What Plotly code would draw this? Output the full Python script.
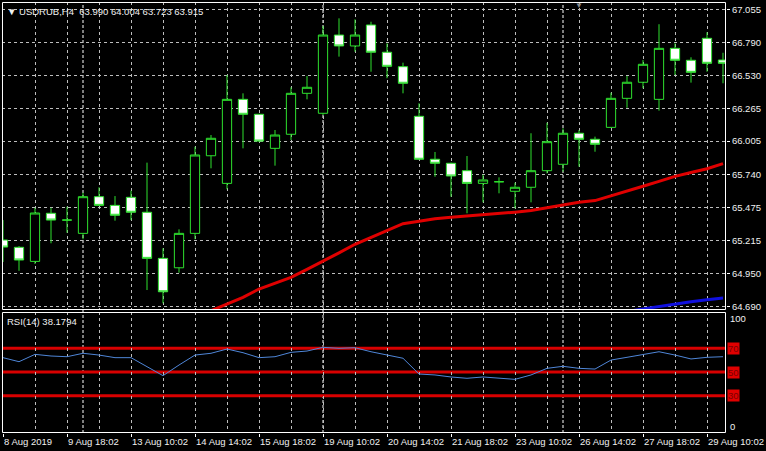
import plotly.graph_objects as go

# ---------------- data ----------------
candle_idx = list(range(46))
open_ = [65.218, 65.160, 65.048, 65.431, 65.377, 65.271, 65.563, 65.494, 65.558, 65.439,
         65.072, 64.997, 65.271, 65.889, 65.669, 66.338, 66.219, 65.948, 66.060, 66.386,
         66.227, 66.850, 66.763, 66.930, 66.713, 66.598, 66.203, 65.861, 65.829, 65.770,
         65.669, 65.682, 65.606, 65.638, 65.770, 65.821, 66.068, 66.020, 66.115, 66.346,
         66.474, 66.338, 66.744, 66.649, 66.824, 66.651]
high = [65.377, 65.170, 65.475, 65.475, 65.483, 65.595, 65.638, 65.568, 65.611, 65.834,
        65.152, 65.303, 65.961, 66.054, 66.532, 66.386, 66.221, 66.094, 66.434, 66.524,
        66.922, 66.983, 66.975, 66.956, 66.784, 66.630, 66.307, 65.919, 65.834, 65.887,
        65.738, 65.717, 65.674, 66.068, 66.152, 66.107, 66.094, 66.041, 66.391, 66.524,
        66.651, 66.936, 66.784, 66.673, 66.872, 66.709]
low = [65.043, 64.973, 65.027, 65.192, 65.276, 65.224, 65.489, 65.372, 65.377, 64.820,
       64.714, 64.958, 65.224, 65.789, 65.622, 65.948, 66.002, 65.810, 66.014, 66.338,
       66.213, 66.678, 66.717, 66.558, 66.506, 66.386, 65.855, 65.722, 65.563, 65.431,
       65.518, 65.590, 65.470, 65.518, 65.749, 65.762, 65.802, 65.921, 66.110, 66.271,
       66.426, 66.248, 66.532, 66.471, 66.558, 66.466]
close = [65.162, 65.059, 65.433, 65.377, 65.377, 65.563, 65.494, 65.415, 65.439, 65.072,
         64.806, 65.271, 65.895, 66.028, 66.338, 66.219, 66.006, 66.054, 66.386, 66.434,
         66.850, 66.763, 66.850, 66.713, 66.601, 66.466, 65.861, 65.829, 65.728, 65.669,
         65.696, 65.682, 65.638, 65.770, 66.001, 66.068, 66.020, 65.980, 66.346, 66.474,
         66.617, 66.744, 66.649, 66.553, 66.625, 66.625]

ma_red_idx = list(range(12, 46))
ma_red = [64.602, 64.655, 64.708, 64.762, 64.828, 64.875, 64.921, 64.985, 65.048, 65.116,
          65.184, 65.239, 65.295, 65.348, 65.368, 65.387, 65.399, 65.409, 65.419, 65.427,
          65.440, 65.453, 65.476, 65.500, 65.518, 65.532, 65.568, 65.607, 65.646, 65.685,
          65.725, 65.756, 65.786, 65.826]

ma_blue_idx = list(range(38, 46))
ma_blue = [64.620, 64.650, 64.670, 64.690, 64.708, 64.726, 64.742, 64.756]

rsi = [62.1, 58.7, 64.9, 63.5, 62.9, 65.8, 64.3, 62.1, 62.1, 54.5,
       46.9, 55.9, 64.3, 65.8, 69.4, 66.3, 62.1, 62.9, 66.6, 67.7,
       70.8, 70.0, 70.5, 67.1, 64.3, 61.6, 48.3, 47.5, 45.8, 44.7,
       45.8, 44.7, 43.8, 47.5, 53.1, 54.8, 53.1, 52.5, 60.1, 62.4,
       64.9, 67.1, 64.3, 61.0, 62.4, 62.9]
rsi_levels = [70, 50, 30]

date_idx = [0, 4, 8, 12, 16, 20, 24, 28, 32, 36, 40, 44]
date_labels = ["8 Aug 2019", "9 Aug 18:02", "13 Aug 10:02", "14 Aug 14:02", "15 Aug 18:02",
               "19 Aug 10:02", "20 Aug 14:02", "21 Aug 18:02", "23 Aug 10:02",
               "26 Aug 14:02", "27 Aug 18:02", "29 Aug 10:02"]
grid_minor_idx = [2, 6, 10, 14, 18, 22, 26, 30, 34, 38, 42]
separator_idx = [5, 20, 35]

price_ticks = [67.055, 66.790, 66.530, 66.265, 66.005, 65.740, 65.475, 65.215, 64.950, 64.690]
price_labels = ["67.055", "66.790", "66.530", "66.265", "66.005", "65.740", "65.475",
                "65.215", "64.950", "64.690"]

title_text = "USDRUB,H4\u00a0\u00a063.990 64.004 63.723 63.915"
rsi_text = "RSI(14) 38.1794"

# ---------------- style ----------------
FONT = "Liberation Sans, Arial, sans-serif"
FG = "#f0f0f0"
GREEN = "#2ee02e"
GRID = "#bdbdbd"
MAIN_DOM = [0.2854, 1.0]
RSI_DOM = [0.0, 0.2807]
# panel frames placed on half pixels so they render as crisp 1px lines
MAIN_FRAME = [0.28654, 0.99884]
RSI_FRAME = [0.00116, 0.27958]
FRAME_X = [0.00069, 0.99931]

fig = go.Figure()

fig.add_trace(go.Candlestick(
    x=candle_idx, open=open_, high=high, low=low, close=close,
    increasing=dict(line=dict(color=GREEN, width=1), fillcolor="#000000"),
    decreasing=dict(line=dict(color=GREEN, width=1), fillcolor="#ffffff"),
    whiskerwidth=0, showlegend=False, hoverinfo="skip",
    xaxis="x", yaxis="y"))

fig.add_trace(go.Scatter(x=ma_red_idx, y=ma_red, mode="lines",
                         line=dict(color="#e00000", width=3), showlegend=False,
                         hoverinfo="skip", xaxis="x", yaxis="y"))
fig.add_trace(go.Scatter(x=ma_blue_idx, y=ma_blue, mode="lines",
                         line=dict(color="#1010e0", width=3), showlegend=False,
                         hoverinfo="skip", xaxis="x", yaxis="y"))
fig.add_trace(go.Scatter(x=candle_idx, y=rsi, mode="lines",
                         line=dict(color="#4f86d8", width=1), showlegend=False,
                         hoverinfo="skip", xaxis="x", yaxis="y2"))

shapes = []
for s in separator_idx:
    shapes.append(dict(type="line", xref="x", yref="paper", x0=s, x1=s, y0=0, y1=1,
                       line=dict(color="#ffffff", width=1, dash="3px,2px"), layer="between"))
for lv in rsi_levels:
    shapes.append(dict(type="line", xref="paper", yref="y2", x0=0, x1=1, y0=lv, y1=lv,
                       line=dict(color="#d80000", width=3), layer="between"))
for fr in (MAIN_FRAME, RSI_FRAME):
    shapes.append(dict(type="rect", xref="paper", yref="paper", x0=FRAME_X[0], x1=FRAME_X[1],
                       y0=fr[0], y1=fr[1], line=dict(color="#ffffff", width=1),
                       fillcolor="rgba(0,0,0,0)", layer="above"))

annotations = []
for i, lab in zip(date_idx, date_labels):
    annotations.append(dict(x=i, xref="x", y=0, yref="paper", text=lab, showarrow=False,
                            xanchor="left", yanchor="top", xshift=-1, yshift=-1,
                            font=dict(family=FONT, size=9.5, color=FG)))
annotations.append(dict(x=0, xref="paper", y=1, yref="paper", text="\u25bc " + title_text,
                        showarrow=False, xanchor="left", yanchor="top", xshift=3, yshift=-2,
                        font=dict(family=FONT, size=9.5, color=FG)))
annotations.append(dict(x=0, xref="paper", y=RSI_DOM[1], yref="paper", text=rsi_text,
                        showarrow=False, xanchor="left", yanchor="top", xshift=3, yshift=-2,
                        font=dict(family=FONT, size=9.5, color=FG)))
annotations.append(dict(x=1, xref="paper", y=100, yref="y2", text="100", showarrow=False,
                        xanchor="left", yanchor="middle", xshift=2, yshift=-5.5,
                        font=dict(family=FONT, size=9.5, color=FG)))
annotations.append(dict(x=1, xref="paper", y=0, yref="y2", text="0", showarrow=False,
                        xanchor="left", yanchor="middle", xshift=2, yshift=4.5,
                        font=dict(family=FONT, size=9.5, color=FG)))
for lv in rsi_levels:
    annotations.append(dict(x=1, xref="paper", y=lv, yref="y2", text=str(lv), showarrow=False,
                            xanchor="left", yanchor="middle", xshift=1, bgcolor="#e00000",
                            borderpad=0, font=dict(family=FONT, size=9.5, color="#7a0000")))
annotations.append(dict(x=36, xref="x", y=1, yref="paper", text="\u25bc", showarrow=False,
                        xanchor="center", yanchor="top", yshift=3,
                        font=dict(family=FONT, size=8, color="#8a8a8a")))

fig.update_layout(
    width=766, height=451,
    margin=dict(l=2, r=40, t=2, b=18),
    paper_bgcolor="#000000", plot_bgcolor="#000000",
    boxgap=0.42, boxgroupgap=0,
    showlegend=False,
    shapes=shapes, annotations=annotations,
    xaxis=dict(range=[-0.0625, 45.1875], anchor="y2", domain=[0, 1],
               tickvals=date_idx, showticklabels=False,
               ticks="outside", ticklen=3, tickcolor="#ffffff", tickwidth=1,
               showgrid=True, gridcolor=GRID, griddash="3px,3px", gridwidth=1,
               minor=dict(tickvals=grid_minor_idx, showgrid=True, gridcolor=GRID,
                          griddash="3px,3px", ticks=""),
               zeroline=False, showline=False, rangeslider=dict(visible=False),
               fixedrange=True),
    yaxis=dict(domain=MAIN_DOM, range=[64.661, 67.113], anchor="x", side="right",
               tickvals=price_ticks, ticktext=price_labels,
               ticks="outside", ticklen=3, tickcolor="#ffffff",
               tickfont=dict(family=FONT, size=9.5, color=FG),
               showgrid=True, gridcolor=GRID, griddash="3px,3px", gridwidth=1,
               zeroline=False, showline=False),
    yaxis2=dict(domain=RSI_DOM, range=[-1.48, 100.63], anchor="x", side="right",
                showticklabels=False, ticks="", showgrid=False, zeroline=False,
                showline=False),
)

fig.write_html("out.html")
